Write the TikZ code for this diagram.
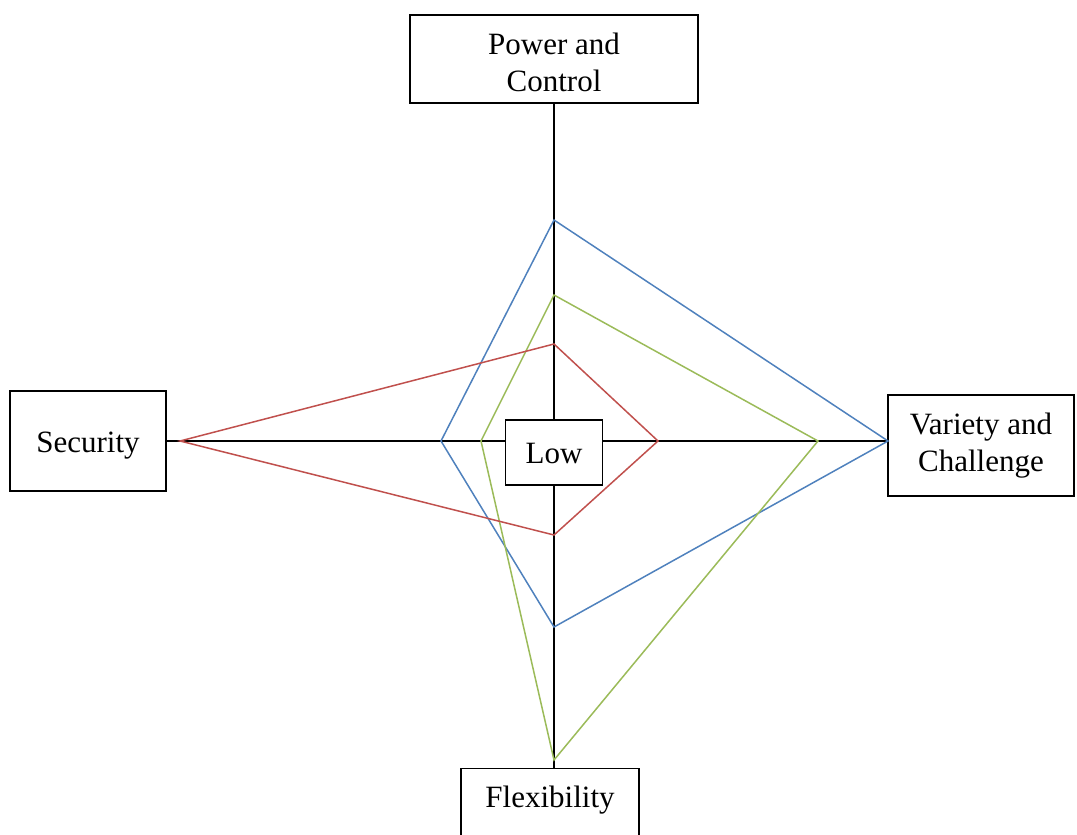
\documentclass[tikz,border=0pt]{standalone}
\usepackage{fontspec}
\setmainfont{Liberation Serif}
\usepackage{xcolor}
\definecolor{seriesblue}{HTML}{4F81BD}
\definecolor{seriesgreen}{HTML}{9BBB59}
\definecolor{seriesred}{HTML}{C0504D}
\begin{document}
\begin{tikzpicture}[x=1pt,y=-1pt,
  labelbox/.style={draw=black, line width=1.2pt, fill=white, inner sep=0pt,
    align=center, font=\fontsize{31}{37}\selectfont},
  axis/.style={draw=black, line width=1.8pt},
  series/.style={line width=1.5pt, line join=miter}]
\useasboundingbox (0,0) rectangle (1077,835);
\clip (0,0) rectangle (1077,835);

% category boxes
\node[labelbox, minimum width=288, minimum height=88, text height=55pt, text depth=29.5pt] (pc) at (554,59)
  {\begin{tabular}{@{}c@{}}Power and\\Control\end{tabular}};
\node[labelbox, minimum width=156, minimum height=100, text height=22pt, text depth=0pt] (sec) at (88,441) {Security};
\node[labelbox, minimum width=186, minimum height=101] (var) at (981,445.5) {Variety and\\Challenge};
\node[labelbox, anchor=north, minimum width=178, text height=39pt, text depth=60pt] (flex) at (550,768) {Flexibility};

% axes
\draw[axis] (pc.south) -- (pc.south |- flex.north);
\draw[axis] (sec.east) -- (sec.east -| var.west);

% polygon vertices
\coordinate (bT) at (554,220);  \coordinate (bR) at (888,441);
\coordinate (bB) at (554,627);  \coordinate (bL) at (441,441);
\coordinate (gT) at (554,295);  \coordinate (gR) at (818,441);
\coordinate (gB) at (554,760);  \coordinate (gL) at (481,441);
\coordinate (rT) at (554,344);  \coordinate (rR) at (658,441);
\coordinate (rB) at (554,535);  \coordinate (rL) at (180,441);

\draw[series, seriesblue]  (bT) -- (bR) -- (bB) -- (bL) -- cycle;
\draw[series, seriesgreen] (gT) -- (gR) -- (gB) -- (gL) -- cycle;
\draw[series, seriesred]   (rT) -- (rR) -- (rB) -- (rL) -- cycle;

% centre label
\node[labelbox, minimum width=97, minimum height=65, text height=22pt, text depth=0pt] (low) at (554,452.5) {Low};
\end{tikzpicture}
\end{document}
